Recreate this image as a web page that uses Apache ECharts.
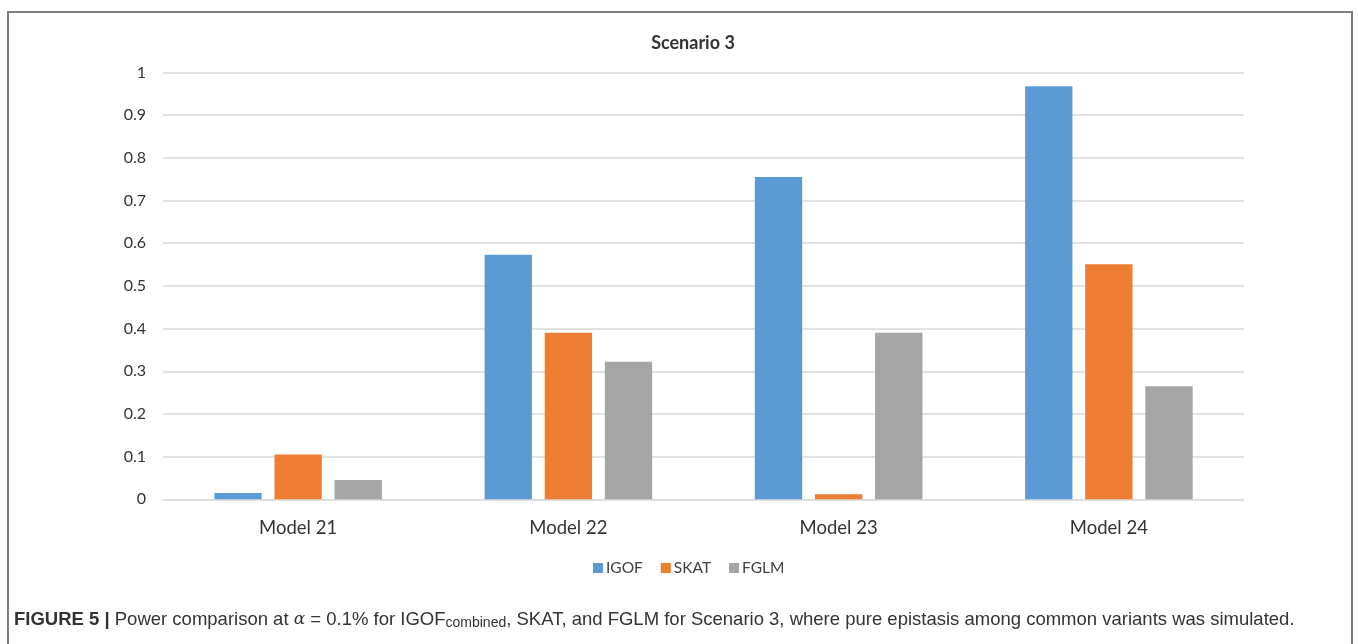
<!DOCTYPE html>
<html>
<head>
<meta charset="utf-8">
<title>Scenario 3</title>
<script src="https://cdn.jsdelivr.net/npm/echarts@6/dist/echarts.min.js"></script>
<style>
  html, body { margin: 0; padding: 0; background: #ffffff; }
  #chart { width: 1358px; height: 644px; }
</style>
</head>
<body>
<div id="chart"></div>
<script>
// Power of each method per model under Scenario 3
const categories = ['Model 21', 'Model 22', 'Model 23', 'Model 24'];
const igof = [0.015, 0.573, 0.755, 0.968];
const skat = [0.105, 0.390, 0.012, 0.551];
const fglm = [0.045, 0.322, 0.390, 0.265];
const seriesNames = ['IGOF', 'SKAT', 'FGLM'];
const seriesColors = ['#5B9BD5', '#ED7D31', '#A5A5A5'];

const chartFont = 'Lato, "Open Sans", sans-serif';
const captionFont = '"Liberation Sans", Arial, sans-serif';

const chart = echarts.init(document.getElementById('chart'), null, { renderer: 'canvas' });

function barSeries(name, data, color) {
  return {
    name: name,
    type: 'bar',
    data: data,
    barGap: '27%',
    barCategoryGap: '38%',
    itemStyle: { color: color },
    emphasis: { disabled: true }
  };
}

chart.setOption({
  animation: false,
  backgroundColor: '#ffffff',
  title: {
    text: 'Scenario 3',
    left: 688,
    top: 29,
    textAlign: 'center',
    textStyle: { fontFamily: chartFont, fontSize: 18, fontWeight: 'bold', color: '#333333' }
  },
  legend: {
    data: seriesNames,
    left: 588,
    top: 555,
    itemWidth: 10,
    itemHeight: 10,
    itemGap: 18,
    icon: 'rect',
    textStyle: { fontFamily: chartFont, fontSize: 15.5, color: '#404040', padding: [0, 0, 0, -2] }
  },
  grid: { left: 163, right: 114, top: 72.5, bottom: 144.7, containLabel: false },
  xAxis: {
    type: 'category',
    data: categories,
    axisLine: { lineStyle: { color: '#D9D9D9', width: 1 } },
    axisTick: { show: false },
    axisLabel: { fontFamily: chartFont, fontSize: 18.5, color: '#333333', margin: 19 }
  },
  yAxis: {
    type: 'value',
    min: 0,
    max: 1,
    interval: 0.1,
    axisLine: { show: false },
    axisTick: { show: false },
    splitLine: { lineStyle: { color: '#D9D9D9', width: 1.5 } },
    axisLabel: {
      fontFamily: chartFont, fontSize: 16, color: '#333333', margin: 17,
      formatter: function (v) { return String(Math.round(v * 10) / 10); }
    }
  },
  series: [
    barSeries(seriesNames[0], igof, seriesColors[0]),
    barSeries(seriesNames[1], skat, seriesColors[1]),
    barSeries(seriesNames[2], fglm, seriesColors[2])
  ],
  graphic: [
    {
      type: 'rect',
      shape: { x: 8, y: 12, width: 1344, height: 700 },
      style: { fill: 'none', stroke: '#7F7F7F', lineWidth: 2 },
      silent: true
    },
    {
      type: 'text',
      left: 14,
      top: 610,
      silent: true,
      style: {
        text: '{b|FIGURE 5 |}{n| Power comparison at }{a|α}{n| = 0.1% for IGOF}{s|combined}{n|, SKAT, and FGLM for Scenario 3, where pure epistasis among common variants was simulated.}',
        fill: '#333333',
        rich: {
          b: { fontFamily: captionFont, fontSize: 18.5, fontWeight: 'bold', fill: '#333333', lineHeight: 22 },
          n: { fontFamily: captionFont, fontSize: 18.5, fill: '#333333', lineHeight: 22 },
          a: { fontFamily: '"DejaVu Serif", serif', fontSize: 17, fontStyle: 'italic', fill: '#333333', lineHeight: 22 },
          s: { fontFamily: captionFont, fontSize: 14, fill: '#333333', lineHeight: 14, verticalAlign: 'bottom' }
        }
      }
    }
  ]
});
</script>
</body>
</html>
